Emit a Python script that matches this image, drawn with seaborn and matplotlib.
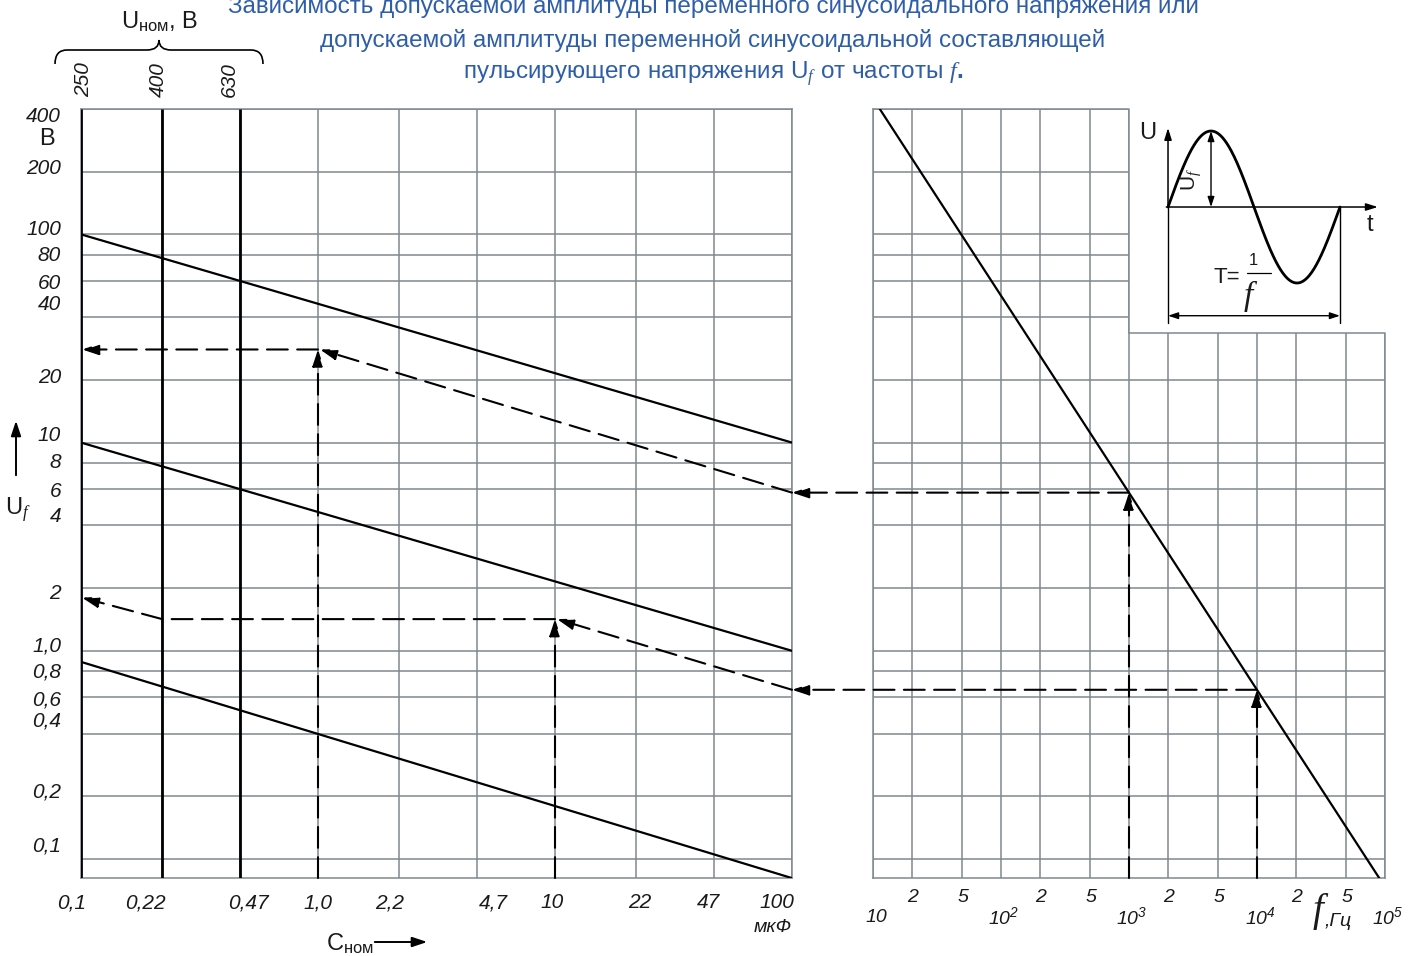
import numpy as np
import pandas as pd
import matplotlib
matplotlib.use("Agg")
import matplotlib.pyplot as plt
from matplotlib.patches import ConnectionPatch, Rectangle, PathPatch, FancyArrowPatch
from matplotlib.path import Path
import seaborn as sns

# ---------------- data ----------------
cap_ticks = [0.1, 0.22, 0.47, 1.0, 2.2, 4.7, 10, 22, 47, 100]
cap_tick_labels = ['0,1', '0,22', '0,47', '1,0', '2,2', '4,7', '10', '22', '47', '100']
u_ticks = [400, 200, 100, 80, 60, 40, 20, 10, 8, 6, 4, 2, 1.0, 0.8, 0.6, 0.4, 0.2, 0.1]
u_tick_labels = ['400', '200', '100', '80', '60', '40', '20', '10', '8', '6', '4', '2',
                 '1,0', '0,8', '0,6', '0,4', '0,2', '0,1']
u_nom_labels = ['250', '400', '630']
u_nom_caps = [0.1, 0.22, 0.47]

# three limit lines  U_f(C_nom)
line_cap = [0.1, 100]
line_u_1 = [100, 10]
line_u_2 = [10, 1.0]
line_u_3 = [0.885, 0.081]

# frequency panel
freq_major = [10, 100, 1e3, 1e4, 1e5]
freq_major_labels = ['10', r'$10^{2}$', r'$10^{3}$', r'$10^{4}$', r'$10^{5}$']
freq_minor = [20, 50, 200, 500, 2000, 5000, 2e4, 5e4]
freq_minor_labels = ['2', '5', '2', '5', '2', '5', '2', '5']
diag_freq = [11.3, 90200]
diag_u = [400, 0.081]

# worked examples (dashed)
ex_cap = [1.0, 10]          # chosen capacitance
ex_u_cap = [28, 1.42]       # amplitude read at that capacitance
ex_cap_break = [1.0, 0.22]  # where the horizontal read-out turns
ex_u_axis = [28, 1.8]       # value arriving at the U axis
ex_freq = [1e3, 1e4]        # chosen frequency
ex_u_freq = [5.75, 0.65]    # amplitude at that frequency

Y_MIN, Y_MAX = 0.0811, 400
CUT_U = 33.5

# ---------------- style ----------------
sns.set_theme(style="white")
plt.rcParams['font.family'] = ['Liberation Sans', 'DejaVu Sans']
plt.rcParams['mathtext.fontset'] = 'custom'
plt.rcParams['mathtext.rm'] = 'Liberation Sans:italic'
plt.rcParams['mathtext.it'] = 'Liberation Sans:italic'
plt.rcParams['mathtext.bf'] = 'Liberation Sans:bold'
plt.rcParams['mathtext.sf'] = 'Liberation Sans'
plt.rcParams['mathtext.cal'] = 'Liberation Serif:italic'

GRID = '#7f878f'
TITLE = '#2f5ea8'
INK = '#1a1a1a'
W, H = 1418, 956

fig = plt.figure(figsize=(W / 100, H / 100), dpi=100)
fig.patch.set_facecolor('white')


def fpx(x, y):
    return x / W, 1 - y / H


ax_l = fig.add_axes([81 / W, (H - 878) / H, 711 / W, 769 / H])
ax_r = fig.add_axes([873 / W, (H - 878) / H, 512 / W, 769 / H])

for ax in (ax_l, ax_r):
    ax.set_xscale('log')
    ax.set_yscale('log')
    ax.set_ylim(Y_MIN, Y_MAX)
    ax.set_axisbelow(True)
    ax.set_yticks(u_ticks)
    ax.yaxis.set_minor_locator(matplotlib.ticker.NullLocator())
    ax.tick_params(which='both', length=0, labelleft=False, labelbottom=False)
    ax.grid(True, which='both', color=GRID, lw=1.1)
    for s in ax.spines.values():
        s.set_color(GRID)
        s.set_linewidth(1.1)

ax_l.set_xlim(0.1, 100)
ax_l.set_xticks(cap_ticks)
ax_l.xaxis.set_minor_locator(matplotlib.ticker.NullLocator())

ax_r.set_xlim(10, 1e5)
ax_r.set_xticks(freq_major)
ax_r.set_xticks(freq_minor, minor=True)

# ---------- left panel lines ----------
df_left = pd.DataFrame({
    'C': line_cap * 3,
    'U': line_u_1 + line_u_2 + line_u_3,
    'series': ['a', 'a', 'b', 'b', 'c', 'c'],
})
sns.lineplot(data=df_left, x='C', y='U', units='series', estimator=None,
             color='black', lw=1.6, ax=ax_l, legend=False, zorder=3)
ax_l.vlines(u_nom_caps, Y_MIN, Y_MAX, color='black', lw=2.0, zorder=3)
ax_l.set_xlabel('')
ax_l.set_ylabel('')

# ---------- right panel ----------
ax_r.spines['top'].set_visible(False)
ax_r.spines['right'].set_visible(False)
ax_r.add_patch(Rectangle((1e3, CUT_U), 1e5 - 1e3, Y_MAX - CUT_U, fc='white', ec='none', zorder=1))
ax_r.plot([10, 1e3, 1e3, 1e5, 1e5], [Y_MAX, Y_MAX, CUT_U, CUT_U, Y_MIN],
          color=GRID, lw=1.1, clip_on=False, zorder=2)
df_diag = pd.DataFrame({'f': diag_freq, 'U': diag_u})
sns.lineplot(data=df_diag, x='f', y='U', estimator=None, color='black', lw=1.6,
             ax=ax_r, legend=False, zorder=3)
ax_r.set_xlabel('')
ax_r.set_ylabel('')

# ---------- dashed example arrows ----------
DASH = (0, (10, 4.5))
HEAD = '-|>,head_length=1.0,head_width=0.33'


def dashed(ax, p0, p1, head=True):
    ax.annotate('', xy=p1, xytext=p0, xycoords='data', textcoords='data',
                arrowprops=dict(arrowstyle=HEAD if head else '-', color='black', lw=1.5,
                                linestyle=DASH, shrinkA=0, shrinkB=0, mutation_scale=10),
                zorder=4, annotation_clip=False)


for i in range(2):
    c, uc, cb, ua, fq, uf = ex_cap[i], ex_u_cap[i], ex_cap_break[i], ex_u_axis[i], ex_freq[i], ex_u_freq[i]
    dashed(ax_r, (fq, Y_MIN), (fq, uf))
    con = ConnectionPatch(xyA=(fq, uf), coordsA='data', axesA=ax_r,
                          xyB=(100, uf), coordsB='data', axesB=ax_l,
                          arrowstyle=HEAD, mutation_scale=10, lw=1.5, linestyle=DASH,
                          color='black', shrinkA=0, shrinkB=0, zorder=4)
    fig.add_artist(con)
    dashed(ax_l, (100, uf), (c * 1.02, uc))
    dashed(ax_l, (c, Y_MIN), (c, uc))
    if cb == c:
        dashed(ax_l, (c, uc), (0.101, ua))
    else:
        dashed(ax_l, (c, uc), (cb, uc), head=False)
        dashed(ax_l, (cb, uc), (0.101, ua))

# ---------- tick labels (placed through axes transforms) ----------
u_label_dy = [7, -3, -5, 1, 3, -13, -2, -7, 0, 3, -9, 5, -5, 1, 3, -13, -4, -13]
for v, lab, dy in zip(u_ticks, u_tick_labels, u_label_dy):
    ax_l.annotate(lab, xy=(0, v), xycoords=('axes fraction', 'data'), xytext=(-20, -dy),
                  textcoords='offset pixels', ha='right', va='center', style='italic',
                  fontsize=15, color=INK, annotation_clip=False)

cap_label_dx = [-9, -17, 8, 0, -10, 16, -3, 4, -6, -15]
for c, lab, dx in zip(cap_ticks, cap_tick_labels, cap_label_dx):
    ax_l.annotate(lab, xy=(c, 0), xycoords=('data', 'axes fraction'), xytext=(dx, -25),
                  textcoords='offset pixels', ha='center', va='center', style='italic',
                  fontsize=15, color=INK, annotation_clip=False)

for f, lab in zip(freq_major, freq_major_labels):
    ax_r.annotate(lab, xy=(f, 0), xycoords=('data', 'axes fraction'), xytext=(3, -39),
                  textcoords='offset pixels', ha='center', va='center', style='italic',
                  fontsize=14, color=INK, annotation_clip=False)
for f, lab in zip(freq_minor, freq_minor_labels):
    ax_r.annotate(lab, xy=(f, 0), xycoords=('data', 'axes fraction'), xytext=(1, -20),
                  textcoords='offset pixels', ha='center', va='center', style='italic',
                  fontsize=14, color=INK, annotation_clip=False)

u_nom_dx = [3, -4, -11]
for c, lab, dx in zip(u_nom_caps, u_nom_labels, u_nom_dx):
    ax_l.annotate(lab, xy=(c, 1), xycoords=('data', 'axes fraction'), xytext=(dx, 12),
                  textcoords='offset pixels', ha='center', va='bottom', rotation=90,
                  style='italic', fontsize=15, color=INK, annotation_clip=False)

# ---------- axis texts ----------
fig.text(*fpx(47, 139), 'B', ha='center', va='center', fontsize=17, color=INK)
fig.text(*fpx(18, 510), r'U$_{\mathcal{f}}$', ha='center', va='center', fontsize=17, color=INK)
fig.add_artist(FancyArrowPatch(fpx(16, 478), fpx(16, 418), transform=fig.transFigure,
               arrowstyle='-|>,head_length=0.9,head_width=0.3', mutation_scale=10, color='black', lw=1.4))

fig.text(*fpx(350, 944), r'C$_{\mathsf{ном}}$', ha='center', va='center', fontsize=17, color=INK)
fig.add_artist(FancyArrowPatch(fpx(372, 942), fpx(430, 942), transform=fig.transFigure,
               arrowstyle='-|>,head_length=0.9,head_width=0.3', mutation_scale=10, color='black', lw=1.4))
fig.text(*fpx(773, 928), 'мкФ', ha='center', va='center', fontsize=14, style='italic', color=INK)

fig.text(*fpx(1318, 912), 'f', ha='center', va='center', fontsize=28, style='italic',
         family='Liberation Serif', color=INK)
fig.text(*fpx(1325, 921), ',Гц', ha='left', va='center', fontsize=14, style='italic', color=INK)

# U_nom label with brace
fig.text(*fpx(160, 22), r'U$_{\mathsf{ном}}$, B', ha='center', va='center', fontsize=17, color=INK)
x0, x1, yb, ye, yt, r = 55, 263, 50, 64, 40, 12
xm = (x0 + x1) / 2
pts = [(x0, ye), (x0, yb), (x0 + r, yb), (xm - r, yb), (xm, yb), (xm, yt),
       (xm, yb), (xm + r, yb), (x1 - r, yb), (x1, yb), (x1, ye)]
codes = [Path.MOVETO, Path.CURVE3, Path.CURVE3, Path.LINETO, Path.CURVE3, Path.CURVE3,
         Path.CURVE3, Path.CURVE3, Path.LINETO, Path.CURVE3, Path.CURVE3]
brace = Path([fpx(*p) for p in pts], codes)
fig.add_artist(PathPatch(brace, transform=fig.transFigure, fc='none', ec='black', lw=1.2))

# ---------- title ----------
title_lines = [
    'Зависимость допускаемой амплитуды переменного синусоидального напряжения или',
    'допускаемой амплитуды переменной синусоидальной составляющей',
    r'пульсирующего напряжения U$_{\mathcal{f}}$ от частоты $\mathcal{f}$$\mathbf{.}$',
]
for txt, y in zip(title_lines, [6, 40, 74]):
    fig.text(*fpx(713, y), txt, ha='center', va='center', fontsize=17.5, color=TITLE)

# ---------- sine inset ----------
ax_s = fig.add_axes([1135 / W, (H - 330) / H, 265 / W, 218 / H])
ax_s.set_xlim(-0.192, 1.349)
ax_s.set_ylim(-1.618, 1.25)
ax_s.axis('off')
ax_s.patch.set_alpha(0)
t = np.linspace(0, 1, 300)
ax_s.plot(t, np.sin(2 * np.pi * t), color='black', lw=2.0)
SMALL = '-|>,head_length=0.7,head_width=0.22'
ax_s.annotate('', xy=(0, 1.04), xytext=(0, 0), arrowprops=dict(arrowstyle=SMALL, color='black', lw=1.1,
              shrinkA=0, shrinkB=0, mutation_scale=10))
ax_s.annotate('', xy=(1.22, 0), xytext=(-0.01, 0), arrowprops=dict(arrowstyle=SMALL, color='black', lw=1.1,
              shrinkA=0, shrinkB=0, mutation_scale=10))
ax_s.annotate('', xy=(0.25, 1.0), xytext=(0.25, 0), arrowprops=dict(arrowstyle='<|-|>,head_length=0.6,head_width=0.2',
              color='black', lw=1.0, shrinkA=0, shrinkB=0, mutation_scale=10))
ax_s.plot([0, 0], [0, -1.53], color='black', lw=1.0)
ax_s.plot([1, 1], [0, -1.53], color='black', lw=1.0)
ax_s.annotate('', xy=(1.0, -1.43), xytext=(0, -1.43), arrowprops=dict(arrowstyle='<|-|>,head_length=0.6,head_width=0.2',
              color='black', lw=1.0, shrinkA=0, shrinkB=0, mutation_scale=10))
ax_s.text(-0.116, 0.97, 'U', ha='center', va='center', fontsize=17, color=INK)
ax_s.text(1.174, -0.24, 't', ha='center', va='center', fontsize=17, color=INK)
ax_s.text(0.134, 0.36, r'U$_{\mathcal{f}}$', ha='center', va='center', fontsize=15, rotation=90, color=INK)
ax_s.text(0.343, -0.93, 'T=', ha='center', va='center', fontsize=16, color=INK)
ax_s.text(0.494, -0.71, '1', ha='center', va='center', fontsize=12, color=INK)
ax_s.plot([0.46, 0.60], [-0.87, -0.87], color='black', lw=0.9)
ax_s.text(0.465, -1.18, 'f', ha='center', va='center', fontsize=24, style='italic',
          family='Liberation Serif', color=INK)

fig.savefig('out.png', dpi=100, facecolor='white')
